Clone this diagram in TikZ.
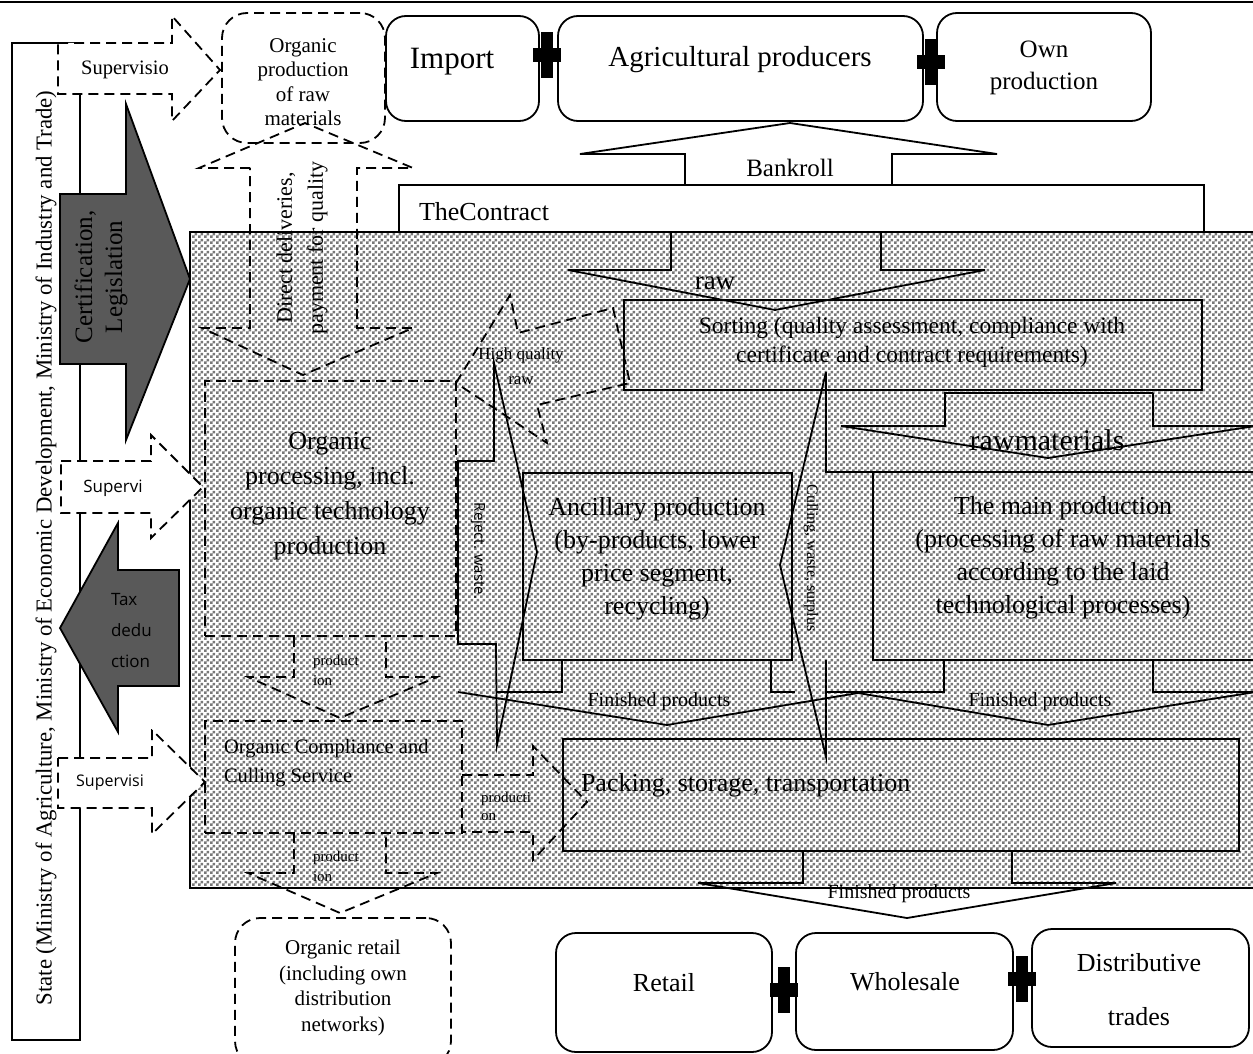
\documentclass[tikz,border=0pt]{standalone}
\usepackage{fontspec}
\setmainfont{Liberation Serif}
\newfontfamily\sansfam{Open Sans}
\usetikzlibrary{patterns}

% fine grey checkerboard used for the enterprise area
\pgfdeclarepatternformonly{checker}{\pgfqpoint{0pt}{0pt}}{\pgfqpoint{6pt}{6pt}}{\pgfqpoint{6pt}{6pt}}{%
  \pgfpathrectangle{\pgfqpoint{0pt}{0pt}}{\pgfqpoint{3pt}{3pt}}%
  \pgfpathrectangle{\pgfqpoint{3pt}{3pt}}{\pgfqpoint{3pt}{3pt}}%
  \pgfusepath{fill}}

\definecolor{blockgray}{RGB}{89,89,89}
\definecolor{dotgray}{RGB}{120,120,120}
\newcommand{\fsz}[2]{\fontsize{#1}{#2}\selectfont}

\begin{document}
\begin{tikzpicture}[x=1pt,y=-1pt,
  every node/.style={inner sep=0pt, outer sep=0pt, text=black},
  ln/.style={draw=black, line width=1.8pt, line join=miter},
  dl/.style={draw=black, line width=1.8pt, dash pattern=on 10pt off 6pt},
  rbox/.style={ln, rounded corners=20pt},
  sbox/.style={ln},
  dbox/.style={dl},
  drbox/.style={dl, rounded corners=25pt},
  plusmk/.pic={\fill[black] (-6,-23) rectangle (6,23); \fill[black] (-14,-7) rectangle (14,7);},
  lbl/.style={align=center},
]
\useasboundingbox (0,0) rectangle (1253,1054);
\fill[white] (0,0) rectangle (1253,1054);

% top rule
\draw[line width=2.5pt] (0,2) -- (1253,2);

% enterprise area
\path[pattern=checker, pattern color=dotgray] (190,232) rectangle (1262,888);
\draw[ln] (1262,232) -- (190,232) -- (190,888) -- (1262,888);

% ---------- state column ----------
\node[sbox, fill=white, minimum width=68, minimum height=997] (state) at (46,541.5) {};
\node[rotate=90, font=\fsz{22.8}{26}] (stateText) at (46,548)
  {State (Ministry of Agriculture, Ministry of Economic Development, Ministry of Industry and Trade)};

% supervision arrows (dashed, white)
\draw[dl, fill=white] (58,43) -- (172,43) -- (172,16) -- (220,70) -- (172,121) -- (172,94) -- (58,94) -- cycle;
\node[font=\fsz{20.5}{24}] (supTop) at (125,70) {Supervisio};
\draw[dl, fill=white] (61,461) -- (151,461) -- (151,435) -- (203,487) -- (151,538) -- (151,513) -- (61,513) -- cycle;
\node[font=\sansfam\fsz{17}{20}] (supMid) at (113,488) {Supervi};
\draw[dl, fill=white] (58,758) -- (152,758) -- (152,730) -- (205,782) -- (152,834) -- (152,808) -- (58,808) -- cycle;
\node[font=\sansfam\fsz{16}{20}] (supLow) at (110,783) {Supervisi};

% certification / legislation block arrow
\draw[ln, fill=blockgray] (60,194) -- (126,194) -- (126,104) -- (190,279) -- (126,440) -- (126,364) -- (60,364) -- cycle;
\node[rotate=90, lbl, font=\fsz{25}{30}] (certText) at (101,277) {Certification,\\Legislation};

% tax deduction block arrow
\draw[ln, fill=blockgray] (179,570) -- (118,570) -- (118,523) -- (60,628) -- (118,732) -- (118,686) -- (179,686) -- cycle;
\node[align=left, anchor=west, font=\sansfam\fsz{17}{31}] (taxText) at (111,631) {Tax\\dedu\\ction};

% ---------- top row ----------
\node[drbox, minimum width=163, minimum height=130] (orgProd) at (303.5,78) {};
\node[lbl, font=\fsz{21}{24.5}] (orgProdText) at (303,82) {Organic\\production\\of raw\\materials};

\node[rbox, fill=white, minimum width=153, minimum height=105] (import) at (462.5,68.5) {};
\node[font=\fsz{31}{34}] (importText) at (452,62) {Import};
\node[rbox, fill=white, minimum width=365, minimum height=105] (agri) at (740.5,68.5) {};
\node[font=\fsz{29}{32}] (agriText) at (740,60) {Agricultural producers};
\node[rbox, fill=white, minimum width=214, minimum height=108] (own) at (1044,67) {};
\node[lbl, font=\fsz{25}{32}] (ownText) at (1044,68) {Own\\production};
\pic at (547,55) {plusmk};
\pic at (931,62) {plusmk};

% bankroll arrow and contract
\draw[ln, fill=white] (685,185) -- (685,154) -- (580,154) -- (790,123) -- (997,154) -- (892,154) -- (892,185);
\node[font=\fsz{25}{28}] (bankText) at (790,168) {Bankroll};
\node[sbox, fill=white, minimum width=805, minimum height=47] (contract) at (801.5,208.5) {};
\node[anchor=west, font=\fsz{26}{28}] (contractText) at (419,212) {TheContract};

% direct deliveries (dashed double arrow)
\draw[dl] (250,168) -- (199,168) -- (305,123) -- (413,168) -- (357,168) -- (357,328)
  -- (413,328) -- (303,375) -- (202,328) -- (250,328) -- cycle;
\node[rotate=90, lbl, font=\fsz{22}{31}] (directText) at (302,248) {Direct deliveries,\\payment for quality};

% raw arrow
\draw[ln] (671,232) -- (671,270) -- (568,270) -- (775,310) -- (985,270) -- (881,270) -- (881,232);
\node[font=\fsz{27}{30}] (rawText) at (715,283) {raw};

% sorting
\node[sbox, minimum width=578, minimum height=90] (sorting) at (913,345) {};
\node[lbl, font=\fsz{23.5}{29}] (sortText) at (912,342)
  {Sorting (quality assessment, compliance with\\certificate and contract requirements)};

% raw materials arrow
\draw[ln] (1153,393) -- (945,393) -- (945,426) -- (841,426) -- (1048,458) -- (1262,425);
\draw[ln] (1153,393) -- (1153,426) -- (1262,426);
\node[font=\fsz{30}{32}] (rawMatText) at (1047,440) {rawmaterials};

% high quality raw (dashed arrow)
\draw[dl] (456,383) -- (510,295) -- (518,333) -- (613,308) -- (630,383) -- (537,405) -- (547,443) -- cycle;
\node[lbl, font=\fsz{17}{25}] (hqText) at (521,366) {High quality\\raw};

% organic processing
\node[dbox, minimum width=251, minimum height=255] (orgProc) at (330.5,508.5) {};
\node[lbl, font=\fsz{26}{35}] (orgProcText) at (330,496)
  {Organic\\processing, incl.\\organic technology\\production};

% reject / waste channel
\draw[ln] (494,363) -- (537,552) -- (497,745) -- (496,644) -- (458,644) -- (458,461) -- (494,461) -- cycle;
\node[rotate=-90, font=\sansfam\fsz{15}{18}] (rejectText) at (478,551) {Reject. waste.};

% ancillary and main production
\node[sbox, minimum width=269, minimum height=187] (ancillary) at (657.5,566.5) {};
\node[lbl, font=\fsz{26}{33}] (ancText) at (657,559)
  {Ancillary production\\(by-products, lower\\price segment,\\recycling)};
\node[sbox, minimum width=397, minimum height=188] (mainProd) at (1071.5,566) {};
\node[lbl, font=\fsz{26}{33}] (mainText) at (1063,558)
  {The main production\\(processing of raw materials\\according to the laid\\technological processes)};

% culling / waste / surplus channel
\draw[ln] (826,372) -- (780,565) -- (826,757) -- (826,660);
\draw[ln] (826,372) -- (826,472) -- (873,472);
\node[rotate=-90, font=\fsz{16}{18}] (cullText) at (811,558) {Culling, waste, surplus};

% finished products arrows into packing
\draw[ln] (496,692) -- (562,692) -- (562,660);
\draw[ln] (771,660) -- (771,692) -- (795,692);
\draw[ln] (458,692) -- (667,725) -- (858,693);
\node[font=\fsz{20}{22}] (finLeft) at (659,702) {Finished products};
\draw[ln] (826,692) -- (944,692) -- (944,660);
\draw[ln] (1153,660) -- (1153,692) -- (1262,692);
\draw[ln] (858,693) -- (1048,725) -- (1262,691);
\node[font=\fsz{20}{22}] (finRight) at (1040,702) {Finished products};

% packing
\node[sbox, minimum width=676, minimum height=112] (packing) at (901,795) {};
\node[anchor=west, font=\fsz{26}{30}] (packText) at (581,785) {Packing, storage, transportation};

% finished products to trade
\draw[ln] (803,851) -- (803,883) -- (698,883) -- (907,918) -- (1116,883) -- (1012,883) -- (1012,851);
\node[font=\fsz{20}{22}] (finBottom) at (899,894) {Finished products};

% production arrows (dashed)
\draw[dl] (294,637) -- (294,677) -- (248,677) -- (340,718) -- (437,677) -- (386,677) -- (386,637);
\node[align=left, anchor=west, font=\fsz{15}{20}] (prodA) at (313,670) {product\\ion};
\node[dbox, minimum width=257, minimum height=112] (compliance) at (333.5,777) {};
\node[align=left, anchor=west, font=\fsz{20.5}{29}] (complText) at (224,763) {Organic Compliance and\\Culling Service};
\draw[dl] (462,775) -- (533,775) -- (533,746) -- (587,802) -- (533,860) -- (533,832) -- (462,832);
\node[align=left, anchor=west, font=\fsz{15}{18}] (prodC) at (481,806) {producti\\on};
\draw[dl] (294,833) -- (294,873) -- (248,873) -- (340,913) -- (437,873) -- (386,873) -- (386,833);
\node[align=left, anchor=west, font=\fsz{15}{20}] (prodB) at (313,866) {product\\ion};

% organic retail
\node[drbox, minimum width=216, minimum height=148] (orgRetail) at (343,992) {};
\node[lbl, font=\fsz{21}{25.5}] (orgRetailText) at (343,988)
  {Organic retail\\(including own\\distribution\\networks)};

% bottom trade boxes
\node[rbox, minimum width=216, minimum height=119] (retail) at (664,992.5) {};
\node[font=\fsz{26}{30}] (retailText) at (664,983) {Retail};
\node[rbox, minimum width=217, minimum height=117] (wholesale) at (904.5,991.5) {};
\node[font=\fsz{26}{30}] (wholeText) at (905,982) {Wholesale};
\node[rbox, minimum width=217, minimum height=118] (distrib) at (1140.5,988) {};
\node[lbl, font=\fsz{26}{54}] (distText) at (1139,990) {Distributive\\trades};
\pic at (784,990) {plusmk};
\pic at (1022,979) {plusmk};
\end{tikzpicture}
\end{document}
